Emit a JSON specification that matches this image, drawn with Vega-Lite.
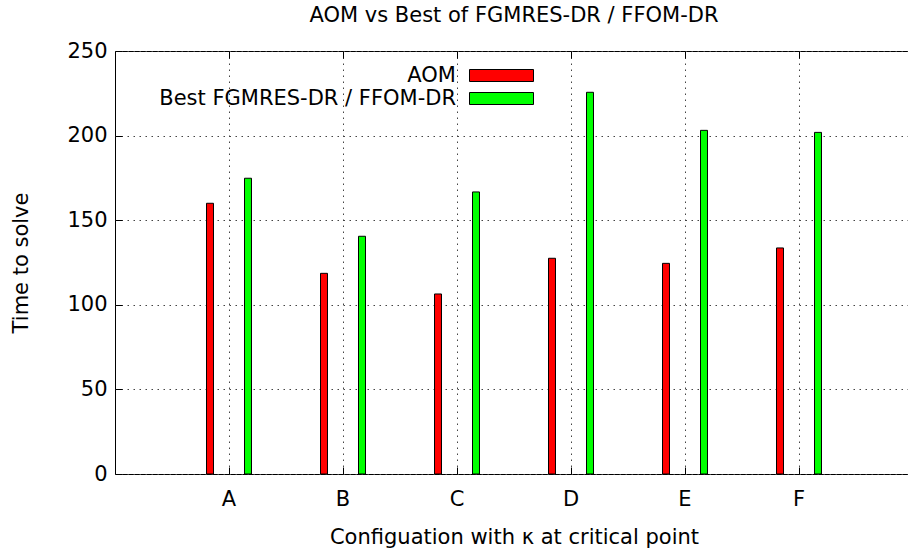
{
  "$schema": "https://vega.github.io/schema/vega-lite/v6.json",
  "width": 798,
  "height": 423,
  "autosize": {"type": "none"},
  "padding": {"left": 115, "top": 51, "right": 0, "bottom": 76},
  "background": "white",
  "title": {
    "text": "AOM vs Best of FGMRES-DR / FFOM-DR",
    "anchor": "middle",
    "font": "DejaVu Sans",
    "fontSize": 21,
    "fontWeight": "normal",
    "color": "black",
    "offset": 14
  },
  "data": {
    "values": [
      {"config": "A", "series": "AOM", "time": 160.0},
      {"config": "A", "series": "Best FGMRES-DR / FFOM-DR", "time": 174.8},
      {"config": "B", "series": "AOM", "time": 118.6},
      {"config": "B", "series": "Best FGMRES-DR / FFOM-DR", "time": 140.5},
      {"config": "C", "series": "AOM", "time": 106.4},
      {"config": "C", "series": "Best FGMRES-DR / FFOM-DR", "time": 166.7},
      {"config": "D", "series": "AOM", "time": 127.5},
      {"config": "D", "series": "Best FGMRES-DR / FFOM-DR", "time": 225.6},
      {"config": "E", "series": "AOM", "time": 124.5},
      {"config": "E", "series": "Best FGMRES-DR / FFOM-DR", "time": 203.1},
      {"config": "F", "series": "AOM", "time": 133.6},
      {"config": "F", "series": "Best FGMRES-DR / FFOM-DR", "time": 201.9}
    ]
  },
  "layer": [
    {
      "mark": {"type": "bar", "stroke": "black", "strokeWidth": 1, "cornerRadius": 0},
      "encoding": {
        "x": {
          "field": "config",
          "type": "nominal",
          "scale": {"domain": ["A", "B", "C", "D", "E", "F"], "paddingInner": 0, "paddingOuter": 0.5},
          "title": "Configuation with κ at critical point",
          "axis": {
            "orient": "bottom",
            "labelAngle": 0,
            "bandPosition": 0.5,
            "domain": false,
            "ticks": true,
            "tickSize": -7,
            "tickColor": "black",
            "labelPadding": 21,
            "titlePadding": 17,
            "grid": true,
            "gridDash": [1.5, 4.5],
            "gridColor": "#444",
            "gridWidth": 1
          }
        },
        "xOffset": {
          "field": "series",
          "type": "nominal",
          "scale": {"domain": ["AOM", "Best FGMRES-DR / FFOM-DR"], "paddingInner": 0.816, "paddingOuter": 0.908}
        },
        "y": {
          "field": "time",
          "type": "quantitative",
          "scale": {"domain": [0, 250], "nice": false},
          "title": "Time to solve",
          "axis": {
            "values": [0, 50, 100, 150, 200, 250],
            "domain": false,
            "tickSize": -7,
            "tickColor": "black",
            "labelPadding": 15,
            "titlePadding": 35,
            "grid": true,
            "gridDash": [1.5, 4.5],
            "gridColor": "#444",
            "gridWidth": 1
          }
        },
        "color": {
          "field": "series",
          "type": "nominal",
          "scale": {"domain": ["AOM", "Best FGMRES-DR / FFOM-DR"], "range": ["#ff0000", "#00ff00"]},
          "legend": {
            "title": null,
            "orient": "none",
            "legendX": 373.5,
            "legendY": 11.5,
            "padding": 0,
            "offset": 0,
            "symbolType": "M-2.56,-0.48H2.56V0.48H-2.56Z",
            "symbolSize": 625,
            "symbolStrokeColor": "black",
            "symbolStrokeWidth": 1,
            "symbolOpacity": 1,
            "labelAlign": "right",
            "labelOffset": -58.5,
            "labelLimit": 500,
            "labelFont": "DejaVu Sans",
            "labelFontSize": 21,
            "labelColor": "black",
            "rowPadding": 0
          }
        }
      }
    },
    {
      "mark": {"type": "tick", "opacity": 0},
      "encoding": {
        "x": {
          "field": "config",
          "type": "nominal",
          "axis": {
            "orient": "top",
            "title": null,
            "labels": false,
            "domain": false,
            "bandPosition": 0.5,
            "tickSize": -7,
            "tickColor": "black",
            "grid": false
          }
        }
      }
    }
  ],
  "resolve": {"axis": {"x": "independent"}},
  "config": {
    "font": "DejaVu Sans",
    "view": {"stroke": "black", "strokeWidth": 1},
    "axis": {
      "labelFont": "DejaVu Sans",
      "labelFontSize": 21,
      "labelColor": "black",
      "titleFont": "DejaVu Sans",
      "titleFontSize": 21,
      "titleFontWeight": "normal",
      "titleColor": "black"
    }
  }
}
